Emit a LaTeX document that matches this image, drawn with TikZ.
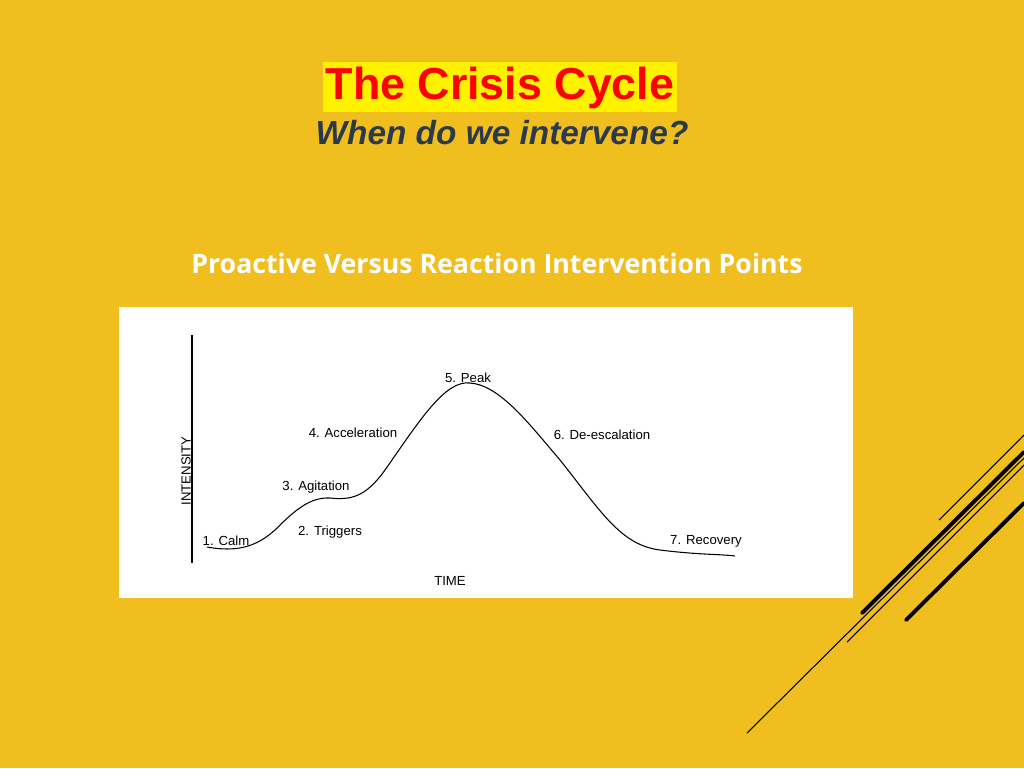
\documentclass[tikz,border=0pt]{standalone}
\usepackage{fontspec}
\setmainfont{Liberation Sans}
\newfontfamily\osans{Open Sans}
\begin{document}
\begin{tikzpicture}[x=0.02cm,y=-0.02cm,
  lbl/.style={font=\fontsize{7.5}{9}\selectfont, inner sep=1pt}]
\definecolor{bg}{HTML}{F0BE1E}
\definecolor{subc}{HTML}{2B3A4A}
\fill[bg] (0,0) rectangle (1024,768);
\useasboundingbox (0,0) rectangle (1024,768);
\fill[yellow] (323,62) rectangle (677,112);
\node[text=red, font=\fontsize{25.5}{28}\bfseries, inner sep=0pt] (title) at (500,88) {The Crisis Cycle};
\node[text=subc, font=\fontsize{19}{22}\bfseries\itshape] (sub) at (502,133) {When do we intervene?};
\node[text=white, font=\osans\fontsize{15.2}{18}\bfseries] (pro) at (497,263) {Proactive Versus Reaction Intervention Points};
\fill[white] (119,307) rectangle (853,598);
\draw[line width=0.8pt] (192,335) -- (192,563);
\node[lbl, rotate=90] (int) at (186,471) {INTENSITY};
\draw[line width=0.6pt] (207,547) .. controls (235,552) and (255,548) .. (275,530)
  .. controls (295,510) and (310,497) .. (330,498)
  .. controls (350,500) and (365,498) .. (385,470)
  .. controls (420,420) and (445,380) .. (470,383)
  .. controls (500,385) and (530,425) .. (560,460)
  .. controls (600,510) and (620,545) .. (660,550)
  .. controls (700,555) and (720,554) .. (735,556);
\node[lbl] (c1) at (226,541) {1. Calm};
\node[lbl] (c2) at (330,532) {2. Triggers};
\node[lbl] (c3) at (316,487) {3. Agitation};
\node[lbl] (c4) at (353,433) {4. Acceleration};
\node[lbl] (c5) at (468,378) {5. Peak};
\node[lbl] (c6) at (602,435) {6. De-escalation};
\node[lbl] (c7) at (706,541) {7. Recovery};
\node[lbl] (time) at (450,581) {TIME};
\draw[line width=0.6pt] (939,520) -- (1024,435);
\draw[line width=2.2pt, line cap=round] (862,613) -- (1024,452);
\draw[line width=0.6pt] (747,733) -- (1024,458);
\draw[line width=0.6pt] (847,642) -- (1024,465);
\draw[line width=2.2pt, line cap=round] (906,620) -- (1024,503);
\end{tikzpicture}
\end{document}
